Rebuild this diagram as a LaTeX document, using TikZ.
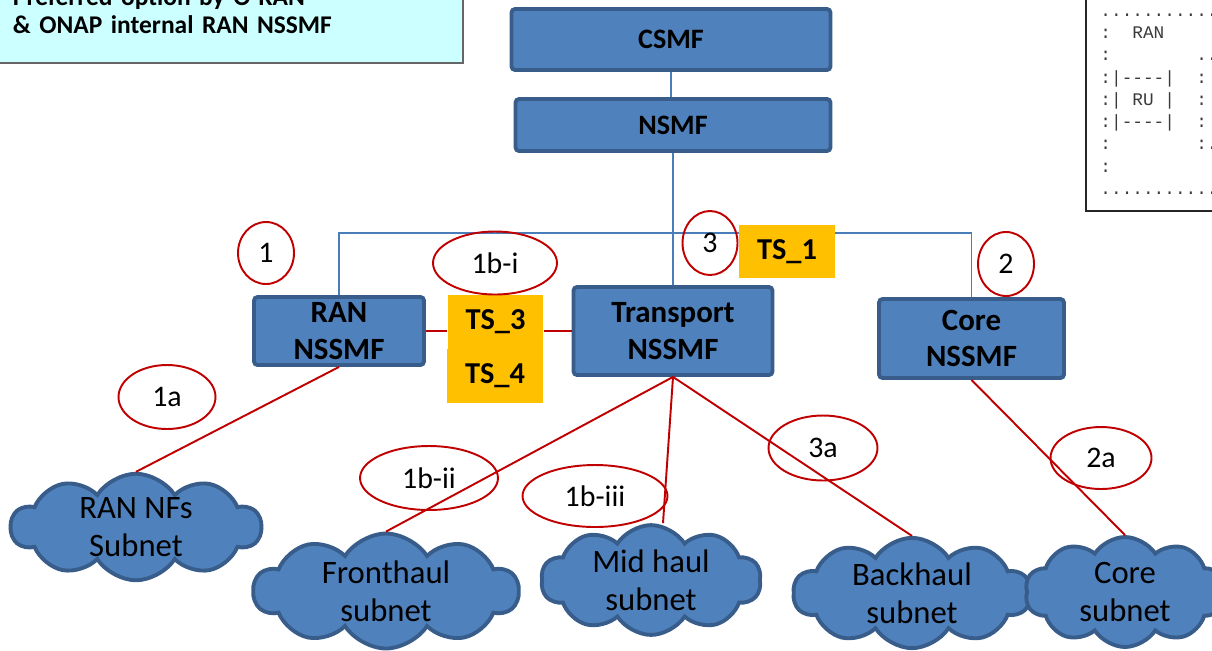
\documentclass[tikz,border=0pt]{standalone}
\usepackage{fontspec}
\setmainfont{Carlito}
\newfontfamily\asciifont{Liberation Mono}
\usetikzlibrary{shapes.geometric,shapes.symbols,calc}
\definecolor{boxblue}{HTML}{4F81BD}
\definecolor{boxedge}{HTML}{385D8A}
\definecolor{busblue}{HTML}{4A7EBB}
\definecolor{tsorange}{HTML}{FFC000}
\definecolor{tagred}{HTML}{C00000}
\definecolor{notecyan}{HTML}{CCFFFF}
\definecolor{asciigray}{HTML}{3A3A3A}
\tikzstyle{mainblock} = [rectangle, draw=boxedge, fill=boxblue, line width=2.2pt, rounded corners=2pt, align=center, inner sep=0pt, font=\fontsize{17.6}{21}\selectfont\bfseries]
\tikzstyle{topblock} = [mainblock, font=\fontsize{16}{19}\selectfont\bfseries]
\tikzstyle{tsblock} = [rectangle, fill=tsorange, inner sep=0pt, minimum width=1.91cm, minimum height=1.07cm, font=\fontsize{17.3}{20}\selectfont\bfseries]
\tikzstyle{tagellipse} = [ellipse, draw=tagred, line width=1.1pt, inner sep=0pt, font=\fontsize{17}{20}\selectfont]
\tikzstyle{subnetcloud} = [cloud, cloud puffs=10, cloud puff arc=115, cloud ignores aspect, draw=boxedge, fill=boxblue, line width=2.2pt, align=center, inner sep=0pt, font=\fontsize{18.6}{21.5}\selectfont]
\tikzstyle{notebox} = [rectangle, draw=black!60, fill=notecyan, line width=1.1pt, minimum width=9.32cm, minimum height=2.08cm, text width=8.68cm, inner xsep=0.32cm, align=left, font=\fontsize{14.5}{16}\selectfont\bfseries]
\tikzstyle{asciibox} = [rectangle, draw=black!85, line width=1.1pt, inner xsep=0.29cm, inner ysep=0.19cm, align=left, text=asciigray, font=\asciifont\fontsize{10.1}{12.7}\selectfont]
\tikzstyle{busline} = [draw=busblue, line width=1.1pt]
\tikzstyle{redline} = [draw=tagred, line width=1.1pt]

\begin{document}
\begin{tikzpicture}[x=0.02cm, y=-0.02cm]
   \useasboundingbox (0,0) rectangle (1212,650);

   % nodes
   \node[notebox, anchor=north west] (note) at (-4,-42) {Preferred option by O-RAN\\\& ONAP internal RAN NSSMF};
   \node[asciibox, anchor=north west] (legend) at (1085,-10) {\strut............\\
      \strut:~~RAN\\
      \strut:~~~~~~~~..\\
      \strut:|-{}-{}-{}-|~~:\\
      \strut:|~RU~|~~:\\
      \strut:|-{}-{}-{}-|~~:\\
      \strut:~~~~~~~~:.\\
      \strut:\\
      \strut............};

   \node[topblock, minimum width=6.38cm, minimum height=1.22cm] (csmf)       at (671,39.5)   {CSMF};
   \node[topblock, minimum width=6.30cm, minimum height=1.04cm] (nsmf)       at (673,125)    {NSMF};
   \node[mainblock, minimum width=3.40cm, minimum height=1.36cm] (ran)       at (339,331)    {RAN\\NSSMF};
   \node[mainblock, minimum width=3.98cm, minimum height=1.76cm] (transport) at (673,331)    {Transport\\NSSMF};
   \node[mainblock, minimum width=3.70cm, minimum height=1.58cm] (core)      at (971.5,338.5) {Core\\NSSMF};

   \node[subnetcloud, minimum width=5.0cm, minimum height=2.1cm]  (rannf)     at (136,527) {RAN NFs\\Subnet};
   \node[subnetcloud, minimum width=5.3cm, minimum height=2.3cm]  (fronthaul) at (386,591) {Fronthaul\\subnet};
   \node[subnetcloud, minimum width=4.4cm, minimum height=1.92cm] (midhaul)   at (651,580) {Mid haul\\subnet};
   \node[subnetcloud, minimum width=4.75cm, minimum height=1.94cm] (backhaul) at (912,593) {Backhaul\\subnet};
   \node[subnetcloud, minimum width=4.0cm, minimum height=2.2cm]  (coresub)   at (1125,592) {Core\\subnet};

   % edges
   \coordinate (bus) at (673,233);
   \draw[busline] (csmf.south) -- (csmf.south |- nsmf.north);
   \draw[busline] (nsmf.south) -- (transport.north);
   \draw[busline] (ran.north) |- (bus) -| (core.north);

   \draw[redline] (ran.south) -- (rannf.north);
   \draw[redline] (transport.south) -- (fronthaul.north);
   \draw[redline] (transport.south) -- ([xshift=0.24cm]midhaul.north);
   \draw[redline] (transport.south) -- (backhaul.north);
   \draw[redline] (core.south) -- (coresub.north);

   % transport slices
   \node[tsblock] (ts1) at (787,251.5) {TS\_1};
   \node[tsblock] (ts3) at (495.5,322) {TS\_3};
   \node[tsblock] (ts4) at (495,376)   {TS\_4};
   \draw[redline] (ran.east) -- (ran.east -| ts3.west);
   \draw[redline] (ts3.east |- transport.west) -- (transport.west);

   % option tags
   \node[tagellipse, minimum width=1.12cm, minimum height=1.24cm] (tag1)     at (266,253)  {1};
   \node[tagellipse, minimum width=2.48cm, minimum height=1.26cm] (tag1bi)   at (495,263)  {1b-i};
   \node[tagellipse, minimum width=1.10cm, minimum height=1.28cm] (tag3)     at (710,243)  {3};
   \node[tagellipse, minimum width=1.12cm, minimum height=1.28cm] (tag2)     at (1006,264) {2};
   \node[tagellipse, minimum width=1.94cm, minimum height=1.28cm] (tag1a)    at (167,397)  {1a};
   \node[tagellipse, minimum width=2.76cm, minimum height=1.28cm] (tag1bii)  at (429,478)  {1b-ii};
   \node[tagellipse, minimum width=2.90cm, minimum height=1.24cm] (tag1biii) at (595,496)  {1b-iii};
   \node[tagellipse, minimum width=2.18cm, minimum height=1.30cm] (tag3a)    at (823,448)  {3a};
   \node[tagellipse, minimum width=2.02cm, minimum height=1.24cm] (tag2a)    at (1101,458) {2a};
\end{tikzpicture}
\end{document}
